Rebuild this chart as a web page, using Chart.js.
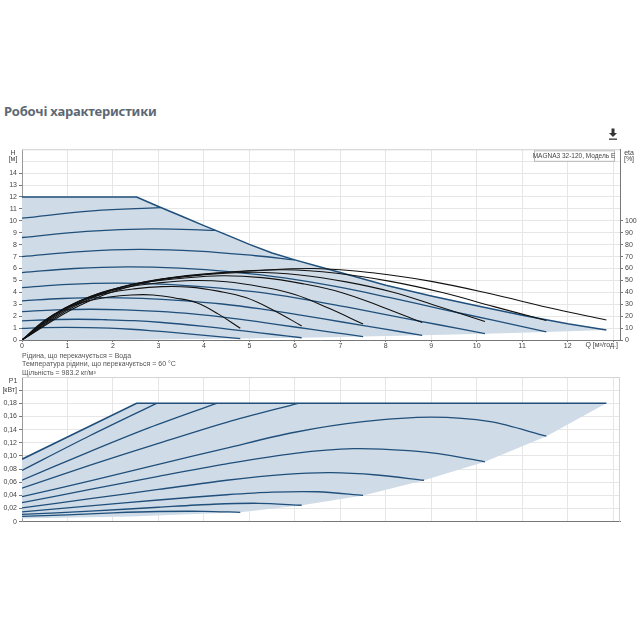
<!DOCTYPE html>
<html>
<head>
<meta charset="utf-8">
<script src="https://cdn.jsdelivr.net/npm/chart.js@4.4.1/dist/chart.umd.min.js"></script>
<style>
body{margin:0;background:#fff;width:640px;height:640px;position:relative;overflow:hidden;font-family:"Liberation Sans",Arial,sans-serif}
h2{position:absolute;left:4px;top:102px;margin:0;font:bold 13px "Noto Sans",sans-serif;color:#5d6873;letter-spacing:-0.2px}
.note{position:absolute;left:22px;top:352px;font-size:7px;line-height:8.3px;color:#555}
#top{position:absolute;left:0;top:140px}
#bot{position:absolute;left:0;top:370px}
.dl{position:absolute;left:608px;top:128px}
</style>
</head>
<body>
<h2>Робочі характеристики</h2>
<svg class="dl" width="10" height="12" viewBox="0 0 10 12">
  <rect x="3.5" y="0.5" width="3" height="4.5" fill="#333"/>
  <polygon points="1,5 9,5 5,9" fill="#333"/>
  <rect x="1" y="10.5" width="8" height="1.3" fill="#333"/>
</svg>
<canvas id="top" width="640" height="215"></canvas>
<div class="note">Рідина, що перекачується = Вода<br>Температура рідини, що перекачується = 60 °C<br>Щільність = 983.2 кг/м³</div>
<canvas id="bot" width="640" height="160"></canvas>
<script>
// Q [m3/h] / H [m] for each speed curve (blue)
const q1 = [0, 0.48, 0.96, 1.44, 1.92, 2.4, 2.88, 3.36, 3.84, 4.32, 4.8];
const h1 = [0.98, 1.04, 1.06, 1.04, 0.99, 0.90, 0.77, 0.62, 0.45, 0.28, 0.12];
const q2 = [0, 0.62, 1.23, 1.85, 2.46, 3.08, 3.69, 4.31, 4.92, 5.54, 6.15];
const h2 = [1.60, 1.70, 1.74, 1.70, 1.62, 1.47, 1.26, 1.01, 0.74, 0.46, 0.19];
const q3 = [0, 0.75, 1.5, 2.25, 3.0, 3.75, 4.5, 5.25, 6.0, 6.75, 7.5];
const h3 = [2.38, 2.52, 2.58, 2.53, 2.40, 2.19, 1.88, 1.50, 1.09, 0.69, 0.29];
const q4 = [0, 0.88, 1.76, 2.64, 3.52, 4.4, 5.28, 6.16, 7.04, 7.92, 8.8];
const h4 = [3.28, 3.48, 3.56, 3.49, 3.31, 3.02, 2.59, 2.07, 1.51, 0.95, 0.39];
const q5 = [0, 1.02, 2.04, 3.05, 4.07, 5.09, 6.11, 7.13, 8.14, 9.16, 10.18];
const h5 = [4.40, 4.66, 4.77, 4.69, 4.44, 4.05, 3.48, 2.77, 2.02, 1.28, 0.53];
const q6 = [0, 1.15, 2.31, 3.46, 4.61, 5.77, 6.92, 8.07, 9.22, 10.38, 11.53];
const h6 = [5.66, 6.00, 6.14, 6.03, 5.72, 5.21, 4.47, 3.57, 2.60, 1.64, 0.68];
const q7 = [0, 1.29, 2.57, 3.86, 5.14, 6.0];
const h7 = [7.00, 7.42, 7.60, 7.46, 7.07, 6.72];
const q8 = [0, 1.42, 2.85, 4.25];
const h8 = [8.60, 9.12, 9.33, 9.2];
const q9 = [0, 1.55, 3.05];
const h9 = [10.22, 10.83, 11.1];

// max curve (upper edge) and lower edge of the working area
const envQ = [0, 2.52, 3, 3.5, 4, 4.5, 5, 5.5, 6, 6.5, 7, 8, 9, 10, 11, 12, 12.85];
const envH = [12, 12, 11.2, 10.4, 9.6, 8.82, 8.02, 7.3, 6.72, 6.18, 5.66, 4.6, 3.7, 2.88, 2.07, 1.36, 0.84];
const lowQ = [12.85, 11.53, 10.18, 8.8, 7.5, 6.15, 4.8, 2.4, 0];
const lowH = [0.84, 0.68, 0.53, 0.39, 0.29, 0.19, 0.12, 0.03, 0];

// efficiency [%] (black), same Q as speed curves
const e1 = [0, 16.0, 26.6, 32.7, 36.1, 37.8, 37.8, 35.3, 31.2, 21.7, 9.9];
const e2 = [0, 19.4, 32.1, 39.1, 42.9, 44.8, 44.4, 41.0, 35.6, 24.8, 11.8];
const e3 = [0, 22.2, 36.4, 43.9, 47.9, 49.9, 48.9, 44.7, 38.2, 26.6, 13.4];
const e4 = [0, 24.6, 40.0, 47.8, 51.8, 53.9, 52.3, 47.3, 39.7, 27.7, 14.6];
const e5 = [0, 26.6, 42.9, 50.9, 54.9, 56.9, 54.6, 48.8, 40.3, 28.1, 15.6];
const e6 = [0, 28.2, 45.3, 53.2, 57.1, 58.9, 56.0, 49.4, 40.0, 28.0, 16.3];
const qe7 = [0, 1.29, 2.57, 3.86, 5.14, 6.43, 7.71, 9.0, 10.28, 11.57, 12.85];
const e7 = [0, 29.4, 46.8, 54.6, 58.2, 60, 56.4, 49.2, 39, 27.3, 16.8];

// P1 [kW]
const pQmax = [0, 2.52, 12.85];
const pMax = [0.095, 0.18, 0.18];
const pQ9 = [0, 1.5, 2.96];
const p9 = [0.078, 0.131, 0.18];
const pQ8 = [0, 1.4, 2.8, 4.28];
const p8 = [0.063, 0.104, 0.143, 0.18];
const pQ7 = [0, 1.5, 3, 4.5, 6.07];
const p7 = [0.051, 0.086, 0.119, 0.151, 0.18];
const pQ6 = [0, 1.5, 3, 4.5, 6, 7.5, 9, 10.3, 11.53];
const p6 = [0.038, 0.062, 0.087, 0.112, 0.136, 0.152, 0.159, 0.152, 0.130];
const pQ5 = [0, 1.5, 3, 4.5, 6, 7.3, 8.5, 9.4, 10.18];
const p5 = [0.029, 0.049, 0.069, 0.088, 0.104, 0.111, 0.108, 0.101, 0.091];
const pQ4 = [0, 1.5, 3, 4.5, 5.8, 6.8, 7.8, 8.84];
const p4 = [0.021, 0.035, 0.049, 0.063, 0.072, 0.0745, 0.071, 0.063];
const pQ3 = [0, 1.5, 3, 4.5, 5.5, 6.5, 7.5];
const p3 = [0.015, 0.024, 0.033, 0.041, 0.045, 0.0455, 0.040];
const pQ2 = [0, 1.5, 3, 4.2, 5.2, 6.15];
const p2 = [0.011, 0.016, 0.022, 0.0265, 0.028, 0.025];
const pQ1 = [0, 1, 2, 3, 4, 4.8];
const p1 = [0.008, 0.0105, 0.0135, 0.0155, 0.0158, 0.0143];
const pLowQ = [12.85, 11.53, 10.18, 8.84, 7.5, 6.15, 4.8, 2.4, 0];
const pLow = [0.18, 0.130, 0.091, 0.063, 0.040, 0.025, 0.0143, 0.008, 0.005];

const BLUE = '#1f4f7a';
const SHADE = '#cfdbe7';
const FONT = { size: 7, family: '"Liberation Sans", Arial, sans-serif' };
const TXT = '#444';

function pts(xs, ys) {
  return xs.map((x, i) => ({ x: x, y: ys[i] }));
}
function blue(xs, ys, yAxis, t) {
  return { data: pts(xs, ys), borderColor: BLUE, borderWidth: 1.3, tension: t, yAxisID: yAxis, order: 2 };
}
function black(xs, ys) {
  return { data: pts(xs, ys), borderColor: '#111', borderWidth: 1.1, tension: 0.4, yAxisID: 'eta', order: 1 };
}

const topSets = [
  { data: pts(envQ.concat(lowQ), envH.concat(lowH)), backgroundColor: SHADE, borderWidth: 0, fill: 'shape', tension: 0, yAxisID: 'y', order: 3 },
  { data: pts(envQ, envH), borderColor: BLUE, borderWidth: 1.5, tension: 0, yAxisID: 'y', order: 2 },
  blue(q1, h1, 'y', 0.4), blue(q2, h2, 'y', 0.4), blue(q3, h3, 'y', 0.4), blue(q4, h4, 'y', 0.4), blue(q5, h5, 'y', 0.4),
  blue(q6, h6, 'y', 0.4), blue(q7, h7, 'y', 0.4), blue(q8, h8, 'y', 0.4), blue(q9, h9, 'y', 0.4),
  black(q1, e1), black(q2, e2), black(q3, e3), black(q4, e4), black(q5, e5), black(q6, e6), black(qe7, e7)
];

const botSets = [
  { data: pts(pQmax.concat(pLowQ), pMax.concat(pLow)), backgroundColor: SHADE, borderWidth: 0, fill: 'shape', tension: 0, yAxisID: 'y', order: 3 },
  { data: pts(pQmax, pMax), borderColor: BLUE, borderWidth: 1.6, tension: 0, yAxisID: 'y', order: 2 },
  blue(pQ9, p9, 'y', 0.3), blue(pQ8, p8, 'y', 0.3), blue(pQ7, p7, 'y', 0.3), blue(pQ6, p6, 'y', 0.3), blue(pQ5, p5, 'y', 0.3),
  blue(pQ4, p4, 'y', 0.3), blue(pQ3, p3, 'y', 0.3), blue(pQ2, p2, 'y', 0.3), blue(pQ1, p1, 'y', 0.3)
];

// light frame on the sides without an axis
const frame = {
  id: 'frame',
  beforeDatasetsDraw(chart, args, opts) {
    const a = chart.chartArea, ctx = chart.ctx;
    ctx.save();
    ctx.strokeStyle = '#d4d4d4';
    ctx.lineWidth = 1;
    ctx.beginPath();
    ctx.moveTo(a.left, a.top + 0.5);
    ctx.lineTo(a.right, a.top + 0.5);
    if (opts.right) {
      ctx.moveTo(a.right - 0.5, a.top);
      ctx.lineTo(a.right - 0.5, a.bottom);
    }
    ctx.stroke();
    ctx.restore();
  }
};

const topText = {
  id: 'topText',
  afterDraw(chart) {
    const a = chart.chartArea, ctx = chart.ctx;
    ctx.save();
    ctx.font = '7px "Liberation Sans", Arial, sans-serif';
    ctx.fillStyle = TXT;
    ctx.textAlign = 'center';
    ctx.textBaseline = 'middle';
    ctx.fillText('H', 13, a.top + 3.5);
    ctx.fillText('[м]', 13, a.top + 10);
    ctx.fillText('eta', 629, a.top + 3.5);
    ctx.fillText('[%]', 629, a.top + 10);
    // model box
    const bw = 80, bx = a.right - 6 - bw, by = a.top + 1;
    ctx.fillStyle = '#fff';
    ctx.fillRect(bx, by, bw, 10.5);
    ctx.strokeStyle = '#b8b8b8';
    ctx.strokeRect(bx + 0.5, by + 0.5, bw, 10.5);
    ctx.fillStyle = TXT;
    ctx.font = '6.5px "Liberation Sans", Arial, sans-serif';
    ctx.fillText('MAGNA3 32-120, Модель E', bx + bw / 2, by + 5.8);
    ctx.font = '7px "Liberation Sans", Arial, sans-serif';
    ctx.textAlign = 'right';
    ctx.fillText('Q [м³/год.]', a.right - 2, a.bottom + 5.5);
    ctx.restore();
  }
};

const botText = {
  id: 'botText',
  afterDraw(chart) {
    const a = chart.chartArea, ctx = chart.ctx;
    ctx.save();
    ctx.font = '7px "Liberation Sans", Arial, sans-serif';
    ctx.fillStyle = TXT;
    ctx.textAlign = 'center';
    ctx.textBaseline = 'middle';
    ctx.fillText('P1', 13, a.top + 4.5);
    ctx.restore();
  }
};

const baseOptions = {
  responsive: false,
  animation: false,
  showLine: true,
  elements: { point: { radius: 0 } },
  plugins: { legend: { display: false }, tooltip: { enabled: false } }
};

new Chart(document.getElementById('top'), {
  type: 'scatter',
  data: { datasets: topSets },
  options: {
    ...baseOptions,
    layout: { padding: { top: 9.3, left: 0, right: 0, bottom: 0 } },
    scales: {
      x: {
        type: 'linear', min: 0, max: 13.15,
        afterFit: s => { s.height = 15; },
        ticks: { stepSize: 1, includeBounds: false, autoSkip: false, maxRotation: 0, padding: 0, font: FONT, color: TXT,
          callback: v => (v <= 12 ? v : '') },
        grid: { color: '#e6e6e6', tickLength: 2, tickColor: '#777' },
        border: { color: '#777' }
      },
      y: {
        position: 'left', min: 0, max: 16,
        afterFit: s => { s.width = 22; },
        ticks: { stepSize: 1, includeBounds: false, autoSkip: false, padding: 2, font: FONT, color: TXT,
          callback: v => (v <= 14 ? v : '') },
        grid: { color: '#e6e6e6', tickLength: 3, tickColor: c => (c.tick && c.tick.value <= 14 ? '#777' : 'rgba(0,0,0,0)') },
        border: { color: '#999' }
      },
      eta: {
        position: 'right', min: 0, max: 160,
        afterFit: s => { s.width = 20; },
        ticks: { stepSize: 10, includeBounds: false, autoSkip: false, padding: 2, font: FONT, color: TXT,
          callback: v => (v <= 100 ? v : '') },
        grid: { drawOnChartArea: false, tickLength: 3, tickColor: c => (c.tick && c.tick.value <= 100 ? '#777' : 'rgba(0,0,0,0)') },
        border: { color: '#777' }
      }
    }
  },
  plugins: [frame, topText]
});

new Chart(document.getElementById('bot'), {
  type: 'scatter',
  data: { datasets: botSets },
  options: {
    ...baseOptions,
    layout: { padding: { top: 7, left: 0, right: 20, bottom: 0 } },
    plugins: { ...baseOptions.plugins, frame: { right: true } },
    scales: {
      x: {
        type: 'linear', min: 0, max: 13.15,
        afterFit: s => { s.height = 8.3; },
        ticks: { stepSize: 1, includeBounds: false, display: false },
        grid: { color: '#e6e6e6', drawTicks: false },
        border: { color: '#777' }
      },
      y: {
        position: 'left', min: 0, max: 0.22,
        afterFit: s => { s.width = 22; },
        ticks: { stepSize: 0.02, includeBounds: false, autoSkip: false, padding: 2, font: FONT, color: TXT,
          callback: v => {
            if (v < 1e-9) return '0';
            if (Math.abs(v - 0.2) < 1e-6) return '[кВт]';
            if (v > 0.19) return '';
            return v.toFixed(2).replace('.', ',');
          } },
        grid: { color: '#e6e6e6', tickLength: 3, tickColor: c => (c.tick && c.tick.value < 0.21 ? '#777' : 'rgba(0,0,0,0)') },
        border: { color: '#999' }
      }
    }
  },
  plugins: [frame, botText]
});
</script>
</body>
</html>
